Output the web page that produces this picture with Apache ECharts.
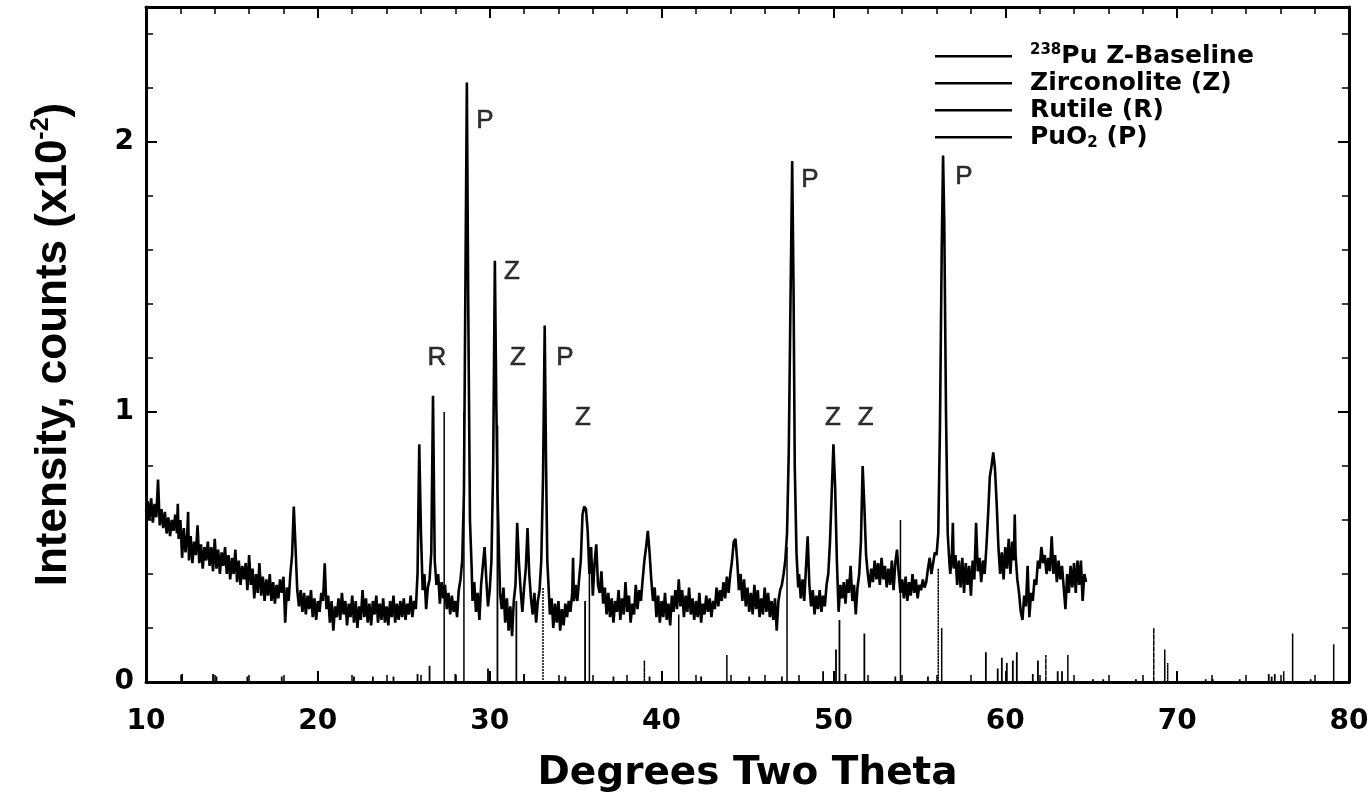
<!DOCTYPE html>
<html><head><meta charset="utf-8">
<script src="https://cdn.jsdelivr.net/npm/echarts@6/dist/echarts.min.js"></script>
<style>html,body{margin:0;padding:0;background:#fff}#c{width:1369px;height:793px}</style>
</head><body><div id="c"></div>
<script>
// Measured pattern: [two-theta (deg), intensity (x10^-2 counts)]
const baseline = [
[10.0,0.63],[10.1,0.67],[10.2,0.60],[10.3,0.68],[10.4,0.59],[10.5,0.66],[10.6,0.61],[10.7,0.75],[10.8,0.58],[10.9,0.64],[11.0,0.57],[11.1,0.63],[11.2,0.55],[11.3,0.61],[11.4,0.54],[11.5,0.60],[11.6,0.56],[11.7,0.62],[11.8,0.55],[11.85,0.66],[11.9,0.53],[12.0,0.60],
[12.1,0.46],[12.2,0.57],[12.3,0.48],[12.4,0.55],[12.45,0.63],[12.5,0.45],[12.6,0.54],[12.7,0.44],[12.8,0.52],[12.9,0.47],[13.0,0.58],[13.1,0.44],[13.2,0.51],[13.3,0.42],[13.4,0.50],[13.5,0.45],[13.6,0.52],[13.7,0.43],[13.8,0.50],[13.9,0.41],[14.0,0.53],[14.1,0.42],[14.2,0.49],[14.3,0.40],[14.4,0.48],[14.5,0.43],
[14.6,0.50],[14.7,0.40],[14.8,0.47],[14.9,0.38],[15.0,0.46],[15.1,0.40],[15.2,0.49],[15.3,0.37],[15.4,0.45],[15.5,0.36],[15.6,0.43],[15.7,0.38],[15.8,0.44],[15.9,0.34],[16.0,0.47],
[16.1,0.36],[16.2,0.42],[16.3,0.31],[16.4,0.40],[16.5,0.33],[16.6,0.44],[16.7,0.32],[16.8,0.39],[16.9,0.30],[17.0,0.38],[17.1,0.32],[17.2,0.40],[17.3,0.30],[17.4,0.37],[17.5,0.29],[17.6,0.36],[17.7,0.31],[17.8,0.38],[17.9,0.33],[18.0,0.39],[18.1,0.22],[18.2,0.35],[18.3,0.30],[18.4,0.40],[18.5,0.47],[18.6,0.65],[18.7,0.50],[18.8,0.34],[18.9,0.28],
[19.0,0.34],[19.1,0.26],[19.2,0.33],[19.3,0.25],[19.4,0.32],[19.5,0.27],[19.6,0.34],[19.7,0.24],[19.8,0.31],[19.9,0.23],[20.0,0.30],[20.1,0.26],[20.2,0.33],[20.3,0.30],[20.4,0.44],[20.5,0.27],[20.6,0.32],[20.7,0.22],[20.8,0.30],[20.9,0.19],[21.0,0.28],[21.1,0.24],[21.2,0.31],
[21.3,0.23],[21.4,0.33],[21.5,0.25],[21.6,0.30],[21.7,0.21],[21.8,0.29],[21.9,0.24],[22.0,0.32],[22.1,0.22],[22.2,0.30],[22.3,0.20],[22.4,0.28],[22.5,0.23],[22.6,0.34],[22.7,0.24],[22.8,0.31],[22.9,0.22],[23.0,0.29],[23.1,0.21],[23.2,0.30],[23.3,0.25],[23.4,0.32],[23.5,0.22],[23.6,0.29],[23.7,0.23],[23.8,0.31],[23.9,0.22],[24.0,0.28],[24.1,0.21],[24.2,0.30],[24.3,0.24],[24.4,0.32],[24.5,0.22],[24.6,0.29],[24.7,0.23],[24.8,0.30],[24.9,0.24],[25.0,0.31],[25.1,0.23],[25.2,0.29],[25.3,0.25],[25.4,0.32],[25.5,0.24],[25.6,0.30],[25.7,0.27],[25.8,0.40],[25.9,0.88],[26.0,0.55],[26.1,0.34],[26.2,0.40],[26.3,0.27],[26.4,0.35],[26.5,0.38],[26.6,0.48],[26.7,1.06],[26.8,0.45],[26.9,0.36],[27.0,0.40],[27.1,0.29],[27.2,0.37],[27.3,0.31],[27.4,0.36],[27.5,0.27],[27.6,0.33],[27.7,0.25],[27.8,0.32],[27.9,0.26],[28.0,0.30],[28.1,0.24],[28.2,0.34],[28.3,0.38],[28.4,0.45],[28.5,0.70],[28.6,1.60],[28.67,2.22],[28.75,1.40],[28.85,0.60],[28.95,0.42],[29.0,0.30],[29.1,0.37],[29.2,0.26],[29.3,0.33],[29.4,0.23],[29.5,0.36],[29.7,0.50],[29.8,0.38],[29.9,0.28],[30.0,0.34],[30.1,0.45],[30.2,0.80],[30.3,1.56],[30.38,1.05],[30.45,0.71],[30.55,0.45],[30.6,0.33],[30.7,0.27],[30.8,0.35],[30.9,0.22],[31.0,0.31],[31.1,0.19],[31.2,0.28],[31.3,0.17],[31.4,0.30],[31.5,0.36],[31.6,0.59],[31.7,0.44],[31.8,0.34],[31.9,0.26],[32.0,0.35],[32.1,0.42],[32.2,0.57],[32.3,0.40],[32.4,0.31],[32.5,0.25],[32.6,0.33],[32.7,0.22],[32.8,0.30],[32.9,0.34],[33.0,0.45],[33.1,0.75],[33.2,1.32],[33.28,0.80],[33.35,0.45],[33.45,0.32],[33.5,0.25],[33.6,0.31],[33.7,0.20],[33.8,0.29],[33.9,0.22],[34.0,0.30],[34.1,0.19],[34.2,0.27],[34.3,0.21],[34.4,0.29],[34.5,0.24],[34.6,0.30],[34.7,0.26],[34.8,0.33],[34.85,0.46],[34.9,0.30],[35.0,0.36],[35.1,0.30],[35.2,0.38],[35.3,0.45],[35.4,0.62],[35.5,0.65],[35.6,0.64],[35.7,0.56],[35.8,0.40],[35.9,0.50],[36.0,0.32],[36.1,0.44],[36.2,0.51],[36.3,0.36],[36.4,0.33],
[36.5,0.41],[36.6,0.29],[36.7,0.35],[36.8,0.25],[36.9,0.33],[37.0,0.24],[37.1,0.31],[37.2,0.22],[37.3,0.30],[37.4,0.26],[37.5,0.34],[37.6,0.23],[37.7,0.31],[37.8,0.25],[37.9,0.37],[38.0,0.26],[38.1,0.32],[38.2,0.22],[38.3,0.29],[38.4,0.25],[38.5,0.36],[38.6,0.27],[38.7,0.34],[38.8,0.30],[38.9,0.38],[39.0,0.45],[39.1,0.50],[39.2,0.56],[39.3,0.48],[39.4,0.38],[39.5,0.30],[39.6,0.35],[39.7,0.24],[39.8,0.32],[39.9,0.22],[40.0,0.30],[40.1,0.24],[40.2,0.33],[40.3,0.23],[40.4,0.29],[40.5,0.21],[40.6,0.32],[40.7,0.26],[40.8,0.34],[40.9,0.27],[41.0,0.38],[41.1,0.28],[41.2,0.34],[41.3,0.24],[41.4,0.32],[41.5,0.26],[41.6,0.35],[41.7,0.25],[41.8,0.31],[41.9,0.23],[42.0,0.30],[42.1,0.24],[42.2,0.33],[42.3,0.22],[42.4,0.29],[42.5,0.25],[42.6,0.32],[42.7,0.26],[42.8,0.31],[42.9,0.24],[43.0,0.30],[43.1,0.27],[43.2,0.35],[43.3,0.28],[43.4,0.34],[43.5,0.30],[43.6,0.37],[43.7,0.31],[43.8,0.39],[43.9,0.33],[44.0,0.40],[44.1,0.45],[44.2,0.52],[44.3,0.53],[44.4,0.45],[44.5,0.34],[44.6,0.40],[44.7,0.30],[44.8,0.38],[44.9,0.28],[45.0,0.35],[45.1,0.26],[45.2,0.33],[45.3,0.25],[45.4,0.36],[45.5,0.27],[45.6,0.34],[45.7,0.24],[45.8,0.31],[45.9,0.25],[46.0,0.35],[46.1,0.26],[46.2,0.33],[46.3,0.24],[46.4,0.30],[46.5,0.23],[46.6,0.31],[46.7,0.19],[46.8,0.30],[46.9,0.34],[47.0,0.36],[47.1,0.40],[47.2,0.45],[47.3,0.55],[47.4,0.85],[47.5,1.40],[47.6,1.93],[47.68,1.45],[47.75,0.80],[47.85,0.48],[47.95,0.35],[48.0,0.40],[48.1,0.31],[48.2,0.38],[48.3,0.30],[48.4,0.42],[48.5,0.54],[48.6,0.36],[48.7,0.28],[48.8,0.34],[48.9,0.25],[49.0,0.32],[49.1,0.27],[49.2,0.34],[49.3,0.26],[49.4,0.32],[49.5,0.28],[49.6,0.36],[49.7,0.40],[49.8,0.52],[49.9,0.70],[50.0,0.88],[50.05,0.80],[50.1,0.72],[50.2,0.45],[50.3,0.26],[50.4,0.36],[50.5,0.31],[50.6,0.37],[50.7,0.29],[50.8,0.38],[50.9,0.33],[51.0,0.43],[51.1,0.30],[51.2,0.36],[51.3,0.25],[51.4,0.35],[51.5,0.40],[51.6,0.52],[51.7,0.80],[51.8,0.65],[51.9,0.47],[52.0,0.40],[52.1,0.35],[52.2,0.42],[52.3,0.37],[52.4,0.45],[52.5,0.38],[52.6,0.44],[52.7,0.36],[52.8,0.46],[52.9,0.38],[53.0,0.43],[53.1,0.35],[53.2,0.42],[53.3,0.36],[53.4,0.45],[53.5,0.34],[53.6,0.44],[53.7,0.49],[53.8,0.40],[53.9,0.33],[54.0,0.38],[54.1,0.31],[54.2,0.39],[54.3,0.30],[54.4,0.37],[54.5,0.32],[54.6,0.40],[54.7,0.33],[54.8,0.38],[54.9,0.31],[55.0,0.36],[55.1,0.34],[55.2,0.38],[55.3,0.35],[55.4,0.37],[55.5,0.42],[55.6,0.46],[55.7,0.40],[55.8,0.44],[55.9,0.48],[56.0,0.47],[56.1,0.55],[56.2,0.95],[56.3,1.60],[56.38,1.95],[56.45,1.70],[56.55,1.00],[56.65,0.55],[56.75,0.44],
[56.8,0.40],[56.9,0.48],[56.95,0.59],[57.0,0.42],[57.1,0.47],[57.2,0.36],[57.3,0.45],[57.4,0.35],[57.5,0.46],[57.6,0.33],[57.7,0.44],[57.8,0.36],[57.9,0.43],[58.0,0.32],[58.1,0.45],[58.2,0.38],[58.3,0.59],[58.4,0.41],[58.5,0.46],[58.6,0.37],[58.7,0.45],[58.8,0.40],[58.9,0.50],[59.0,0.62],[59.1,0.76],[59.2,0.80],[59.3,0.85],[59.4,0.79],[59.5,0.66],[59.6,0.50],[59.7,0.40],[59.8,0.48],[59.9,0.38],[60.0,0.50],[60.1,0.42],[60.2,0.53],[60.3,0.40],[60.4,0.52],[60.5,0.45],[60.55,0.62],[60.6,0.47],[60.7,0.38],[60.8,0.33],[60.9,0.26],[61.0,0.23],[61.1,0.32],[61.2,0.28],[61.3,0.43],[61.4,0.24],[61.5,0.33],[61.6,0.30],[61.7,0.38],[61.8,0.36],[61.9,0.45],[62.0,0.42],[62.1,0.50],[62.2,0.44],[62.3,0.47],[62.4,0.40],[62.5,0.46],[62.6,0.41],[62.7,0.54],[62.8,0.40],[62.9,0.47],[63.0,0.37],[63.1,0.45],[63.2,0.38],[63.3,0.43],[63.4,0.35],[63.5,0.27],[63.6,0.40],[63.7,0.33],[63.8,0.43],[63.9,0.35],[64.0,0.44],[64.1,0.33],[64.2,0.45],[64.3,0.36],[64.4,0.45],[64.5,0.30],[64.6,0.40],[64.7,0.37]
];

// Reference stick patterns: [two-theta, relative height]
const zirconolite = [
[12.1,0.03],[13.9,0.03],[14.1,0.02],[15.9,0.02],[17.9,0.02],[20.0,0.04],[22.1,0.02],[23.2,0.02],[24.4,0.02],[25.8,0.03],[26.5,0.06],[28.0,0.03],[29.9,0.05],[30.45,0.95],[31.55,0.30],[32.0,0.03],[34.4,0.02],[35.55,0.30],[37.2,0.02],[39.3,0.02],[42.3,0.02],[45.1,0.02],[47.0,0.02],[49.4,0.04],[50.15,0.12],[50.35,0.23],[50.7,0.03],[51.8,0.18],[53.6,0.02],[55.5,0.02],[58.87,0.11],[59.56,0.05],[59.8,0.09],[60.09,0.07],[60.44,0.08],[60.67,0.11],[61.6,0.03],[61.9,0.08],[63.05,0.04],[63.3,0.04],[65.1,0.01],[65.7,0.01],[67.6,0.01],[71.66,0.01],[72.07,0.01],[73.64,0.01],[75.33,0.03],[75.5,0.02],[75.68,0.03],[77.77,0.01]
];
const rutile = [
[27.35,1.0],[35.8,0.5],[39.0,0.08],[41.0,0.25],[43.8,0.10],[53.9,0.6],[56.3,0.2],[62.36,0.10],[63.64,0.10],[68.64,0.2],[69.28,0.12],[76.2,0.04]
];
const puo2 = [
[28.5,1.0],[33.1,0.35],[47.3,0.5],[56.1,0.42],[69.45,0.07],[76.72,0.18],[79.11,0.14]
];

// Peak annotations: [two-theta, intensity, letter]
const peakLabels = [
[26.93,1.20,'R'],[29.72,2.08,'P'],[31.29,1.52,'Z'],[31.64,1.20,'Z'],[34.37,1.20,'P'],[35.42,0.98,'Z'],[48.63,1.86,'P'],[49.97,0.98,'Z'],[51.88,0.98,'Z'],[57.6,1.87,'P']
];

const seriesNames = ['238Pu Z-Baseline','Zirconolite (Z)','Rutile (R)','PuO2 (P)'];

function sticks(list){
  const out = [];
  list.forEach(([x,h]) => { out.push([x,0],[x,h],[x,0]); });
  return out;
}

const chart = echarts.init(document.getElementById('c'), null, {renderer:'canvas'});
const axisFont = 'DejaVu Sans';
const baseAxis = {
  min: 10, max: 80, interval: 10,
  axisLine: {show:true, onZero:false, lineStyle:{color:'#000', width:3}},
  axisTick: {show:true, inside:true, length:11, lineStyle:{color:'#000', width:2}},
  minorTick: {show:true, splitNumber:5, length:7, lineStyle:{color:'#000', width:1.5}},
  splitLine: {show:false}
};
const baseY = {
  min: 0, max: 2.5, interval: 1,
  axisLine: {show:true, onZero:false, lineStyle:{color:'#000', width:3}},
  axisTick: {show:true, inside:true, length:11, lineStyle:{color:'#000', width:2}},
  minorTick: {show:true, splitNumber:5, length:7, lineStyle:{color:'#000', width:1.5}},
  splitLine: {show:false}
};

chart.setOption({
  animation: false,
  backgroundColor: '#fff',
  grid: {left:146, right:20, top:7, bottom:111, outerBoundsMode:'none', containLabel:false},
  legend: {
    show: true,
    data: seriesNames.map(n => ({name:n, icon:'rect'})),
    orient: 'vertical',
    left: 935, top: 43, padding: 0,
    itemWidth: 77, itemHeight: 2.5, itemGap: 2,
    itemStyle: {color:'#000', borderWidth:0},
    formatter: function(n){
      if (n === seriesNames[0]) return '{s|238}{t|Pu Z-Baseline}';
      if (n === seriesNames[3]) return '{t|PuO}{b|2}{t| (P)}';
      return '{t|' + n + '}';
    },
    textStyle: {
      color:'#000', padding:[0,0,0,13],
      rich: {
        t: {fontFamily:axisFont, fontWeight:'bold', fontSize:25, lineHeight:26.5, color:'#000'},
        s: {fontFamily:axisFont, fontWeight:'bold', fontSize:15, lineHeight:26.5, verticalAlign:'top', color:'#000'},
        b: {fontFamily:axisFont, fontWeight:'bold', fontSize:15, lineHeight:26.5, verticalAlign:'bottom', color:'#000'}
      }
    }
  },
  xAxis: [
    Object.assign({}, baseAxis, {
      type:'value', position:'bottom',
      name:'Degrees Two Theta', nameLocation:'middle', nameGap:72,
      nameTextStyle:{fontFamily:axisFont, fontWeight:'bold', fontSize:39, color:'#000'},
      axisLabel:{show:true, margin:26, fontFamily:axisFont, fontWeight:'bold', fontSize:28, color:'#000'}
    }),
    Object.assign({}, baseAxis, {type:'value', position:'top', axisLabel:{show:false}})
  ],
  yAxis: [
    Object.assign({}, baseY, {
      type:'value', position:'left',
      name:'{t|Intensity, counts (x10}{s|-2}{t|)}', nameLocation:'middle', nameGap:67, nameRotate:90,
      nameTextStyle:{
        rich:{
          t:{fontFamily:'Liberation Sans', fontWeight:'bold', fontSize:44, color:'#000', lineHeight:50},
          s:{fontFamily:'Liberation Sans', fontWeight:'bold', fontSize:25, color:'#000', lineHeight:50, verticalAlign:'top'}
        }
      },
      axisLabel:{show:true, margin:12, showMaxLabel:false, fontFamily:axisFont, fontWeight:'bold', fontSize:28, color:'#000',
        formatter: v => (Number.isInteger(v) ? String(v) : '')}
    }),
    Object.assign({}, baseY, {type:'value', position:'right', axisLabel:{show:false}})
  ],
  series: [
    {name: seriesNames[0], type:'line', xAxisIndex:0, yAxisIndex:0, data: baseline, showSymbol:false, symbol:'none',
      lineStyle:{color:'#000', width:2.6}, itemStyle:{color:'#000'}, z:5},
    {name: seriesNames[1], type:'line', data: sticks(zirconolite), showSymbol:false, symbol:'none',
      lineStyle:{color:'#000', width:1.8}, itemStyle:{color:'#000'}, z:4},
    {name: seriesNames[2], type:'line', data: sticks(rutile), showSymbol:false, symbol:'none',
      lineStyle:{color:'#000', width:1.5, type:[5,1]}, itemStyle:{color:'#000'}, z:4},
    {name: seriesNames[3], type:'line', data: sticks(puo2), showSymbol:false, symbol:'none',
      lineStyle:{color:'#000', width:1.5, type:[2,1]}, itemStyle:{color:'#000'}, z:4},
    {name:'labels', type:'scatter', data: peakLabels.map(p => ({value:[p[0],p[1]], name:p[2]})),
      symbolSize:1, itemStyle:{color:'rgba(0,0,0,0)'}, silent:true,
      label:{show:true, position:'inside', formatter: p => p.name, fontFamily:'Liberation Sans', fontSize:26, color:'#000', textBorderColor:'#000', textBorderWidth:0.6}, z:6}
  ]
});
</script>
</body></html>
